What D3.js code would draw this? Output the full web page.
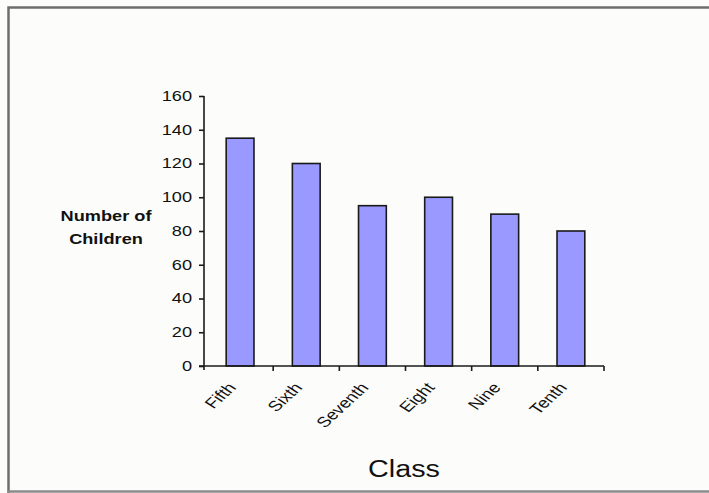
<!DOCTYPE html>
<html><head><meta charset="utf-8">
<script src="https://cdn.jsdelivr.net/npm/d3@7"></script>
<style>body{margin:0;background:#fff}svg{display:block}text{font-family:"Liberation Sans",Arial,sans-serif;fill:#111}</style>
</head><body>
<script>
const categories = ["Fifth","Sixth","Seventh","Eight","Nine","Tenth"];
const values = [135,120,95,100,90,80];
const yTicks = [0,20,40,60,80,100,120,140,160];
const yTitle = ["Number of","Children"];
const xTitle = "Class";

const W=709,H=493, SX=1.3;
const svg=d3.select("body").append("svg").attr("width",W).attr("height",H);
svg.append("rect").attr("width",W).attr("height",H).attr("fill","#fcfdfb");
// frame
svg.append("path").attr("d","M8.5,493 L8.5,7.5 L709,7.5").attr("fill","none").attr("stroke","#6e6e6e").attr("stroke-width",2.5);
svg.append("line").attr("x1",8).attr("x2",709).attr("y1",491.5).attr("y2",491.5).attr("stroke","#8a8a8a").attr("stroke-width",2.5);

const ax=204, x0=207,x1=604,y0=366,y1=96;
const x=d3.scaleBand().domain(categories).range([x0,x1]).paddingInner(0.58).paddingOuter(0.29);
const y=d3.scaleLinear().domain([0,160]).range([y0,y1]);

// bars
svg.selectAll("rect.bar").data(values).join("rect").attr("class","bar")
 .attr("x",(d,i)=>x(categories[i])).attr("width",x.bandwidth())
 .attr("y",d=>y(d)).attr("height",d=>y0-y(d))
 .attr("fill","#9999ff").attr("stroke","#1a1a1a").attr("stroke-width",1.6);

// y axis
const ya=svg.append("g").attr("transform",`translate(${ax},0)`)
 .call(d3.axisLeft(y).tickValues(yTicks).tickSize(5).tickPadding(7).tickSizeOuter(0));
ya.select(".domain").attr("stroke","#1a1a1a").attr("stroke-width",1.6).attr("d",`M0,${y1}V${y0+4}`);
ya.selectAll(".tick line").attr("stroke","#1a1a1a").attr("stroke-width",1.6);
ya.selectAll(".tick text").attr("font-size",14).attr("fill","#111")
 .attr("font-family",'"Liberation Sans",Arial,sans-serif')
 .each(function(){const t=d3.select(this);const xx=+t.attr("x");t.attr("x",xx/SX).attr("transform",`scale(${SX},1)`);});

// x axis
const bounds=categories.map(c=>x(c)-x.step()*x.paddingInner()/2);
const xa=svg.append("g").attr("transform",`translate(0,${y0})`);
xa.append("line").attr("x1",ax-5).attr("x2",x1).attr("stroke","#1a1a1a").attr("stroke-width",1.6);
xa.selectAll("line.tk").data(bounds.slice(1).concat([x1])).join("line").attr("class","tk")
 .attr("x1",d=>d).attr("x2",d=>d).attr("y1",0).attr("y2",5).attr("stroke","#1a1a1a").attr("stroke-width",1.6);
xa.selectAll("text").data(categories).join("text")
 .attr("transform",d=>`translate(${x(d)+x.bandwidth()/2-3},${22}) scale(${SX},1) rotate(-50)`)
 .attr("text-anchor","end").attr("font-size",14.5).text(d=>d);

// titles
svg.append("g").attr("transform",`translate(106,0) scale(${SX},1)`)
 .selectAll("text").data(yTitle).join("text")
 .attr("x",0).attr("y",(d,i)=>221+i*23).attr("text-anchor","middle")
 .attr("font-weight","bold").attr("font-size",14).text(d=>d);
svg.append("text").attr("transform",`translate(404,477) scale(1.25,1)`)
 .attr("text-anchor","middle").attr("font-size",23).text(xTitle);
</script>
</body></html>
